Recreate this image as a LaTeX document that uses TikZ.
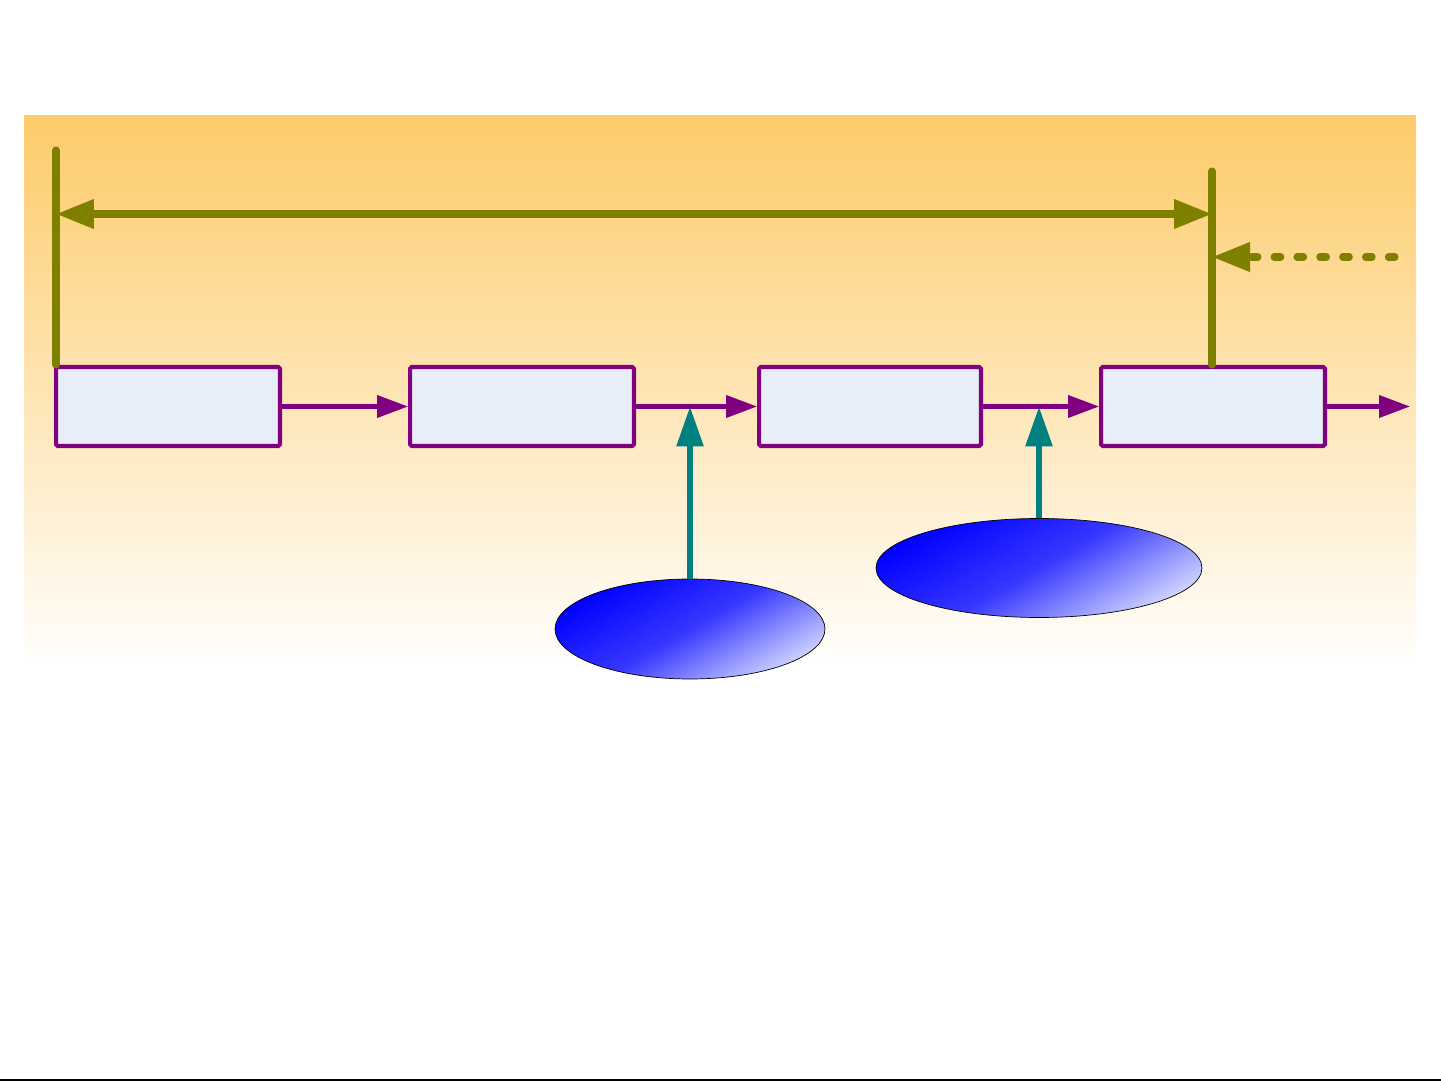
\documentclass[tikz,border=0pt]{standalone}
\usetikzlibrary{arrows.meta,shapes.geometric}
\definecolor{boxfill}{RGB}{232,238,248}
\definecolor{boxline}{RGB}{128,0,128}
\definecolor{spanline}{RGB}{128,128,0}
\definecolor{bgtop}{RGB}{253,203,106}
\definecolor{bgbot}{RGB}{255,254,252}
\definecolor{bluelite}{RGB}{205,210,255}
\begin{document}
\begin{tikzpicture}[x=0.02cm,y=-0.02cm,font=\footnotesize,
	stage/.style={draw=boxline,fill=boxfill,line width=2.3pt,rounded corners=1pt,
		minimum width=4.48cm,minimum height=1.58cm,inner sep=0pt},
	source/.style={ellipse,draw=black,line width=0.4pt,inner sep=0pt,
		top color=blue,bottom color=bluelite,middle color={rgb,255:red,55;green,55;blue,255},shading angle=30},
	flow/.style={draw=boxline,line width=2.3pt,-{Triangle[length=0.62cm,width=0.44cm]}},
	feed/.style={draw=teal,line width=3.4pt,-{Triangle[length=0.8cm,width=0.52cm]}},
	span/.style={draw=spanline,line width=4pt,line cap=round}]
	\useasboundingbox (0,0) rectangle (1441,1081);
	% background band
	\shade[top color=bgtop,bottom color=bgbot] (24,116) rectangle (1416,662);
	\draw[line width=1.2pt] (0,1080) -- (1441,1080);
	% stages
	\node[stage] (s1) at (168,406.5) {};
	\node[stage] (s2) at (522,406.5) {};
	\node[stage,minimum width=4.44cm] (s3) at (870,406.5) {};
	\node[stage] (s4) at (1213,406.5) {};
	\coordinate (out) at (1410,406.5);
	\coordinate (j1) at (690,406.5);
	\coordinate (j2) at (1039,406.5);
	\draw[flow] (s1) -- (s2);
	\draw[flow] (s2) -- (s3);
	\draw[flow] (s3) -- (s4);
	\draw[flow] (s4) -- (out);
	% inputs
	\node[source,minimum width=5.4cm,minimum height=2cm] (e1) at (690,629) {};
	\node[source,minimum width=6.52cm,minimum height=1.98cm] (e2) at (1039,568) {};
	\draw[feed] (e1.north) -- (j1);
	\draw[feed] (e2.north) -- (j2);
	% span markers
	\coordinate (l1) at (56,150);
	\coordinate (l2) at (1212,171);
	\coordinate (a1) at (56,214);
	\coordinate (a2) at (1212,214);
	\coordinate (d1) at (1395,257);
	\coordinate (d2) at (1212,257);
	\draw[span] (l1) -- (l1 |- s1.north);
	\draw[span] (l2) -- (l2 |- s4.north);
	\draw[span,line cap=butt,{Triangle[length=0.76cm,width=0.56cm]}-{Triangle[length=0.76cm,width=0.56cm]}] (a1) -- (a2);
	\draw[span,dash pattern=on 3.8pt off 9.2pt,-{Triangle[length=0.76cm,width=0.56cm]}] (d1) -- (d2);
\end{tikzpicture}
\end{document}
